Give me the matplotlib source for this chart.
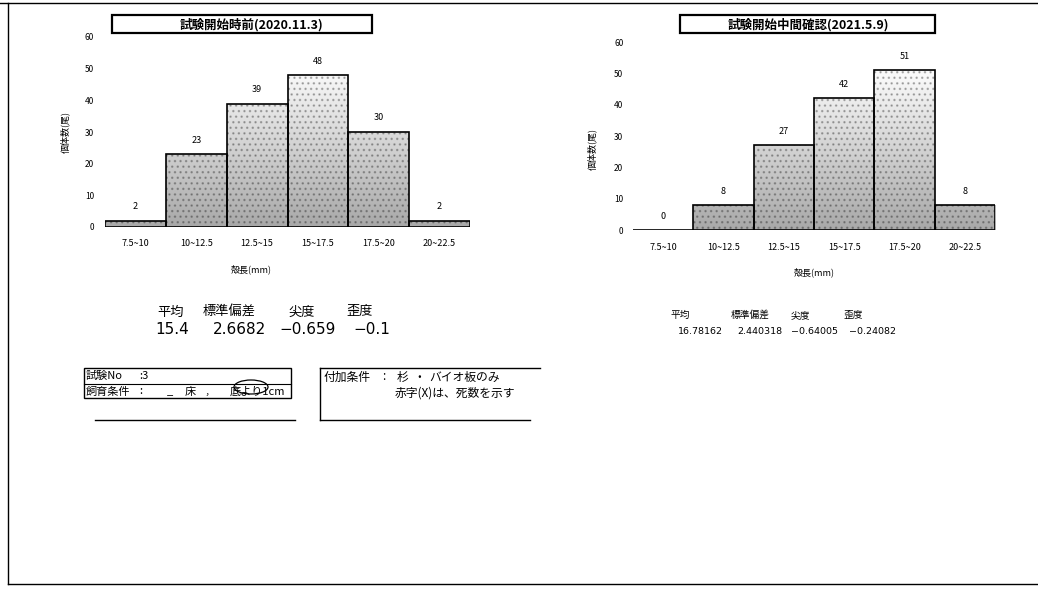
import numpy as np
import matplotlib
matplotlib.use("Agg")
import matplotlib.pyplot as plt
from matplotlib.patches import Rectangle, Ellipse

plt.rcParams['font.family'] = ['Noto Sans CJK JP', 'DejaVu Sans']

# ---------------- data ----------------
bin_labels = ["7.5~10", "10~12.5", "12.5~15", "15~17.5", "17.5~20", "20~22.5"]
left_counts = [2, 23, 39, 48, 30, 2]
right_counts = [0, 8, 27, 42, 51, 8]
y_ticks = [0, 10, 20, 30, 40, 50, 60]

left_title = "試験開始時前(2020.11.3)"
right_title = "試験開始中間確認(2021.5.9)"
x_label = "殻長(mm)"
y_label = "個体数(尾)"

stat_names = ["平均", "標準偏差", "尖度", "歪度"]
left_stats = ["15.4", "2.6682", "−0.659", "−0.1"]
right_stats = ["16.78162", "2.440318", "−0.64005", "−0.24082"]

W, H = 1038, 589
fig = plt.figure(figsize=(W / 100, H / 100), dpi=100)
fig.patch.set_facecolor("white")

# overlay in pixel coordinates
ov = fig.add_axes([0, 0, 1, 1])
ov.set_xlim(0, W)
ov.set_ylim(H, 0)
ov.axis("off")


def px_axes(x0, y0, x1, y1):
    return fig.add_axes([x0 / W, (H - y1) / H, (x1 - x0) / W, (y1 - y0) / H])


def draw_hist(ax, counts):
    xs = np.arange(len(counts))
    bars = ax.bar(xs, counts, width=1.0, facecolor="none", edgecolor="black",
                  linewidth=1.2, zorder=3)
    for b, c in zip(bars, counts):
        if c <= 0:
            continue
        x0 = b.get_x()
        x1 = x0 + b.get_width()
        yy = np.linspace(0, c, 64)[:, None]
        shade = np.clip(0.66 + 0.32 * (yy / 50.0), 0, 0.98)
        img = ax.imshow(shade, extent=[x0, x1, 0, c], origin="lower",
                        cmap="gray", vmin=0, vmax=1, aspect="auto",
                        interpolation="bilinear", zorder=2)
        clip = Rectangle((x0, 0), x1 - x0, c, transform=ax.transData)
        img.set_clip_path(clip)
        ax.bar([b.get_x() + 0.5], [c], width=1.0, facecolor="none",
               edgecolor="black", hatch="...", linewidth=0, zorder=2.5,
               alpha=0.25)
    for x, c in zip(xs, counts):
        ax.text(x, c + 3, str(c), ha="center", va="bottom", fontsize=6.5)
    ax.set_xlim(-0.5, len(counts) - 0.5)
    ax.set_ylim(0, 60)
    ax.set_yticks(y_ticks)
    ax.set_xticks(xs)
    ax.set_xticklabels(bin_labels, fontsize=6.5)
    ax.tick_params(axis="both", length=0)
    ax.tick_params(axis="y", labelsize=6)
    ax.tick_params(axis="x", pad=9)
    for s in ax.spines.values():
        s.set_visible(False)
    ax.set_facecolor("none")


axL = px_axes(105, 37, 470, 227)
draw_hist(axL, left_counts)
axL.tick_params(axis="y", pad=8)
axL.set_ylabel(y_label, fontsize=6.5)
axL.yaxis.set_label_coords(-0.095, 0.5)
axL.set_xlabel(x_label, fontsize=6.5)
axL.xaxis.set_label_coords(0.40, -0.195)

axR = px_axes(633, 42, 995, 230)
draw_hist(axR, right_counts)
axR.tick_params(axis="y", pad=7)
axR.set_ylabel(y_label, fontsize=6.5)
axR.yaxis.set_label_coords(-0.10, 0.43)
axR.set_xlabel(x_label, fontsize=6.5)
axR.xaxis.set_label_coords(0.50, -0.20)

# page frame
ov.plot([0, W], [3, 3], color="black", lw=1.0)
ov.plot([8, 8], [3, 584], color="black", lw=1.0)
ov.plot([8, W], [584, 584], color="black", lw=1.0)

# title boxes
ov.add_patch(Rectangle((112, 15), 260, 18, fill=False, lw=1.6, ec="black"))
ov.text(252, 24.5, left_title, ha="center", va="center", fontsize=9,
        fontweight="bold")
ov.add_patch(Rectangle((680, 15), 255, 18, fill=False, lw=1.6, ec="black"))
ov.text(808, 24.5, right_title, ha="center", va="center", fontsize=9,
        fontweight="bold")

# statistics (left, large)
for name, val, cx, vx in zip(stat_names, left_stats,
                             [171, 229, 302, 360], [172, 239, 308, 372]):
    ov.text(cx, 312, name, ha="center", va="center", fontsize=9.5)
    ov.text(vx, 330, val, ha="center", va="center", fontsize=11,
            family="DejaVu Sans")

# statistics (right, small)
for name, val, cx, vx in zip(stat_names, right_stats,
                             [680, 750, 800, 853], [700, 760, 815, 872]):
    ov.text(cx, 315, name, ha="center", va="center", fontsize=7)
    ov.text(vx, 332, val, ha="center", va="center", fontsize=6.8,
            family="DejaVu Sans")

# condition boxes
ov.add_patch(Rectangle((84, 368), 207, 30, fill=False, lw=1.0, ec="black"))
ov.plot([84, 291], [384, 384], color="black", lw=0.8)
ov.text(86, 376, "試験No", ha="left", va="center", fontsize=8)
ov.text(139, 376, ":3", ha="left", va="center", fontsize=8)
ov.text(86, 391.5, "飼育条件", ha="left", va="center", fontsize=8)
ov.text(139, 391.5, ":", ha="left", va="center", fontsize=8)
ov.text(167, 391.5, "_", ha="left", va="center", fontsize=8)
ov.text(185, 391.5, "床", ha="left", va="center", fontsize=8)
ov.text(205, 391.5, ",", ha="left", va="center", fontsize=8)
ov.text(230, 391.5, "底より1cm", ha="left", va="center", fontsize=8)
ov.add_patch(Ellipse((251, 387), 34, 14, fill=False, lw=0.9, ec="black"))

ov.plot([320, 320], [368, 420], color="black", lw=1.0)
ov.plot([320, 540], [368, 368], color="black", lw=1.0)
ov.plot([95, 295], [420, 420], color="black", lw=1.0)
ov.plot([320, 530], [420, 420], color="black", lw=1.0)
ov.text(324, 377, "付加条件", ha="left", va="center", fontsize=8.5)
ov.text(382, 377, ":", ha="left", va="center", fontsize=8.5)
ov.text(397, 377, "杉", ha="left", va="center", fontsize=8.5)
ov.text(413, 377, "・", ha="left", va="center", fontsize=8.5)
ov.text(429, 377, "バイオ板のみ", ha="left", va="center", fontsize=8.5)
ov.text(395, 393, "赤字(X)は、死数を示す", ha="left", va="center", fontsize=8.5)

fig.savefig("out.png", dpi=100, facecolor="white")
